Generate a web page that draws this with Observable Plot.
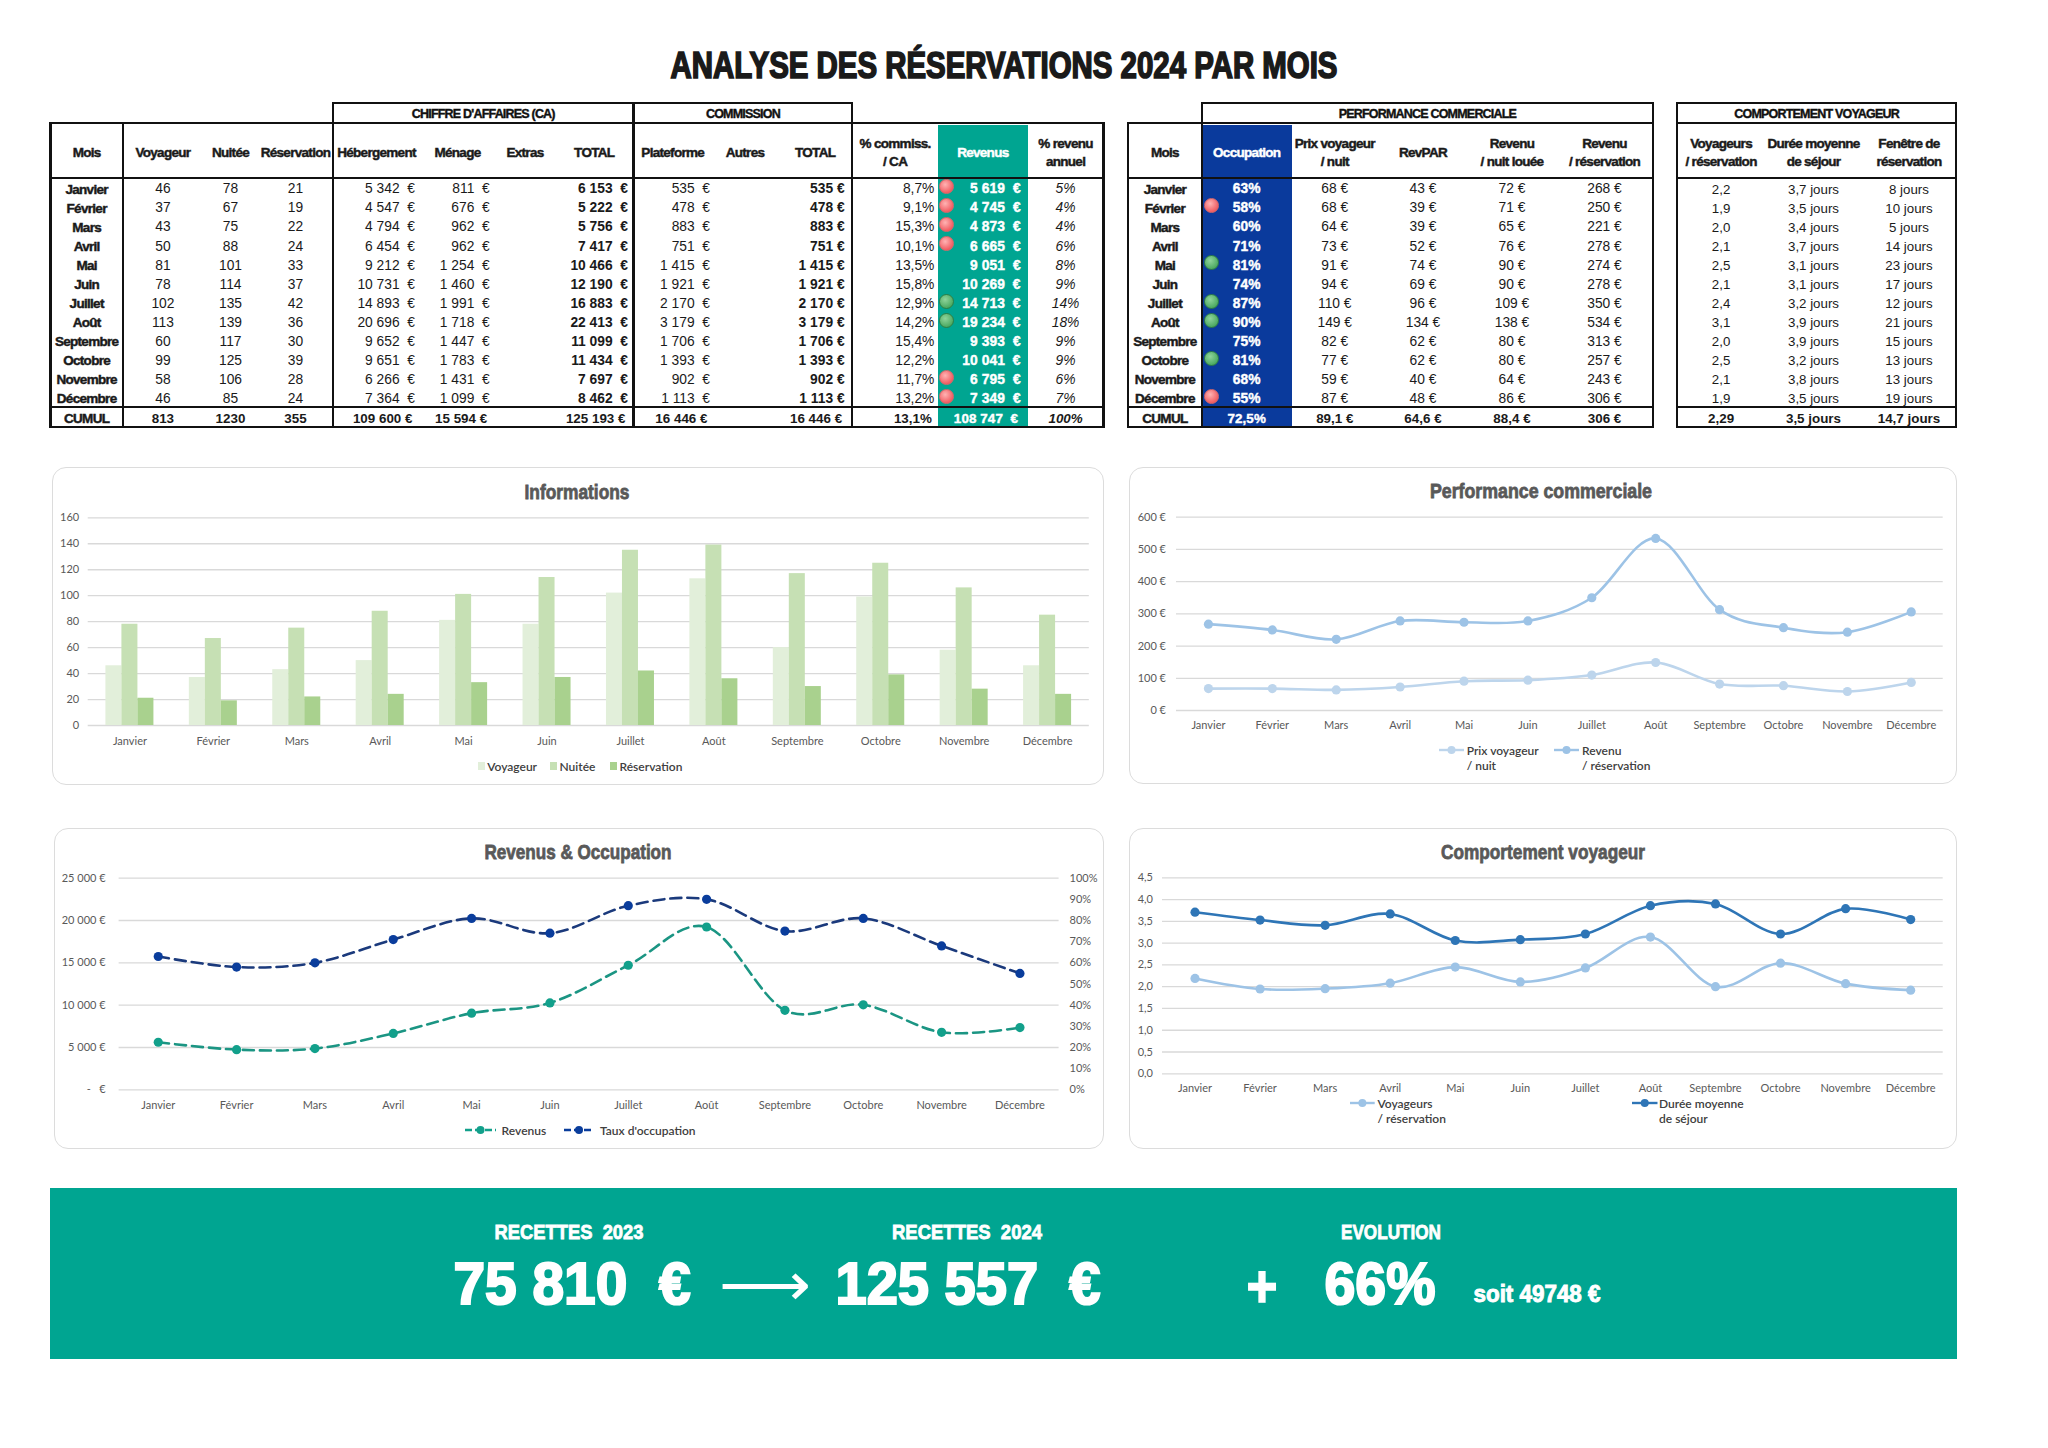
<!DOCTYPE html>
<html lang="fr"><head><meta charset="utf-8">
<script src="https://cdn.jsdelivr.net/npm/d3@7"></script>
<script src="https://cdn.jsdelivr.net/npm/@observablehq/plot@0.6"></script>
<style>
html,body{margin:0;padding:0;background:#fff}
#page{position:relative;width:2048px;height:1448px;overflow:hidden;font-family:"Liberation Sans",Arial,sans-serif;color:#111}
.abs{position:absolute}
.fit{position:absolute;white-space:pre;line-height:1;font-weight:700}
.card{position:absolute;box-sizing:border-box;border:1.5px solid #dcdcdc;border-radius:14px;background:#fff}
.plot{position:absolute}
.plot svg{display:block;background:transparent}
table.t{position:absolute;border-collapse:separate;border-spacing:0;table-layout:fixed;font-size:13.8px;color:#1a1a1a}
table.t.small{font-size:13.3px}
table.t td{padding:0;overflow:visible;white-space:pre;position:relative;vertical-align:middle;line-height:1}
td.r{text-align:right;padding-right:var(--p)!important}
td.c{text-align:center}
td.h,td.m,tr.cumul td{font-weight:700}
tr.cumul td{font-size:13.4px;padding-top:2px!important}
td.h,td.m,tr.cumul td.m{font-size:13.5px;letter-spacing:-.7px;-webkit-text-stroke:.45px currentColor}
td.h{line-height:1.32!important}
tr.cumul td.r{padding-right:calc(var(--p) + 2.5px)!important}
td.w{color:#fff;font-weight:700;letter-spacing:.1px;-webkit-text-stroke:.4px #fff}
.line{position:absolute;background:#111}
.dot{position:absolute;width:15px;height:15px;box-sizing:border-box;border-radius:50%}
.dot.red{background:radial-gradient(circle at 40% 35%,#ffb3b3,#f0595f 75%);border:1px solid #d9686a}
.dot.green{background:radial-gradient(circle at 40% 35%,#8fd49b,#4aa860 75%);border:1px solid #2f7f45}
.group{position:absolute;box-sizing:border-box;display:flex;align-items:center;justify-content:center;padding-top:1.5px;font-weight:700;font-size:12.5px;letter-spacing:-.8px;-webkit-text-stroke:.4px #111;white-space:pre}
.lg{position:absolute;font:600 12px Lato,sans-serif;color:#404040;line-height:15px;white-space:pre}
.sw{position:absolute}
</style></head><body><div id="page"></div>
<script>
// ---------- Données ----------
const mois=["Janvier","Février","Mars","Avril","Mai","Juin","Juillet","Août","Septembre","Octobre","Novembre","Décembre"];
const voyageurs=[46,37,43,50,81,78,102,113,60,99,58,46];
const nuitees=[78,67,75,88,101,114,135,139,117,125,106,85];
const reservations=[21,19,22,24,33,37,42,36,30,39,28,24];
const hebergement=[5342,4547,4794,6454,9212,10731,14893,20696,9652,9651,6266,7364];
const menage=[811,676,962,962,1254,1460,1991,1718,1447,1783,1431,1099];
const totalCA=[6153,5222,5756,7417,10466,12190,16883,22413,11099,11434,7697,8462];
const plateforme=[535,478,883,751,1415,1921,2170,3179,1706,1393,902,1113];
const pctCommission=[8.7,9.1,15.3,10.1,13.5,15.8,12.9,14.2,15.4,12.2,11.7,13.2];
const revenus=[5619,4745,4873,6665,9051,10269,14713,19234,9393,10041,6795,7349];
const pctRevenu=[5,4,4,6,8,9,14,18,9,9,6,7];
const alerteRevenus=["r","r","r","r","","","g","g","","","r","r"];
const occupation=[63,58,60,71,81,74,87,90,75,81,68,55];
const alerteOccupation=["","r","","","g","","g","g","","g","","r"];
const prixVoyageurNuit=[68,68,64,73,91,94,110,149,82,77,59,87];
const revPAR=[43,39,39,52,74,69,96,134,62,62,40,48];
const revenuNuitLouee=[72,71,65,76,90,90,109,138,80,80,64,86];
const revenuReservation=[268,250,221,278,274,278,350,534,313,257,243,306];
const voyageursParReservation=[2.19,1.947,1.955,2.08,2.45,2.11,2.43,3.14,2.0,2.54,2.07,1.92];
const dureeMoyenne=[3.71,3.53,3.41,3.67,3.06,3.08,3.21,3.86,3.9,3.21,3.79,3.54];
const fenetre=[8,10,5,14,23,17,12,21,15,13,13,19];
const ticksInfos=[0,20,40,60,80,100,120,140,160];
const ticksPerf=[0,100,200,300,400,500,600];
const ticksRevenus=[0,5000,10000,15000,20000,25000];
const ticksOccupation=[0,10,20,30,40,50,60,70,80,90,100];
const ticksComportement=[0,.5,1,1.5,2,2.5,3,3.5,4,4.5];

// ---------- Outils ----------
const page=document.getElementById("page");
const NB="\u00a0";
const n=v=>String(v).replace(/\B(?=(\d{3})+$)/g,NB);
const eur=v=>n(v)+NB+NB+"€";
const eur1=v=>n(v)+NB+"€";
const pct1=v=>v.toFixed(1).replace(".",",")+"%";
const dec1=v=>v.toFixed(1).replace(".",",");
function fit(text,cx,cy,w,size,color,stroke,family){
  const e=document.createElement("div");e.className="fit";e.textContent=text;
  e.style.cssText=`left:${cx}px;top:${cy}px;font-size:${size}px;color:${color};font-family:${family||'"Liberation Sans"'};`+(stroke?`-webkit-text-stroke:${stroke}px ${color};`:"");
  page.appendChild(e);
  const k=w/e.getBoundingClientRect().width;
  e.style.transform=`translate(-50%,-50%) scaleX(${k})`;
  return e;
}
function line(x,y,w,h){const d=document.createElement("div");d.className="line";
  d.style.cssText=`left:${x}px;top:${y}px;width:${w}px;height:${h}px`;page.appendChild(d)}
const LW=2.4;
function hl(x0,x1,y){line(x0-LW/2,y-LW/2,x1-x0+LW,LW)}
function vl(x,y0,y1){line(x-LW/2,y0,LW,y1-y0)}
function group(txt,x0,x1,y0,y1){
  const g=document.createElement("div");g.className="group";g.textContent=txt;
  g.style.cssText=`left:${x0}px;top:${y0}px;width:${x1-x0}px;height:${y1-y0}px`;page.appendChild(g);
  hl(x0,x1,y0);vl(x0,y0,y1);vl(x1,y0,y1);
}
const Y={g:103.3,h:123.3,hb:177.7,b0:179.8,rh:19.04,ct:407.3,cb:427.3};
function table(edges,cols,vlines,cls){
  const t=document.createElement("table");t.className="t "+(cls||"");
  const W=edges[edges.length-1]-edges[0];
  t.style.cssText=`left:${edges[0]}px;top:${Y.h}px;width:${W}px`;
  const cg=document.createElement("colgroup");
  for(let i=0;i<cols.length;i++){const c=document.createElement("col");c.style.width=(edges[i+1]-edges[i])+"px";cg.appendChild(c)}
  t.appendChild(cg);
  const addRow=(h,fn,cls)=>{const tr=document.createElement("tr");tr.style.height=h+"px";if(cls)tr.className=cls;
    cols.forEach((c,i)=>{const td=document.createElement("td");fn(td,c,i);if(c.fill)td.style.background=c.fill;tr.appendChild(td)});t.appendChild(tr)};
  addRow(Y.b0-Y.h,(td,c)=>{td.className="h c";td.innerHTML=c.head;if(c.white)td.style.color="#fff";td.style.top="1.5px"});
  mois.forEach((m,r)=>addRow(Y.rh,(td,c)=>{
    const v=c.cell(r);
    td.className=(c.month?"m c":c.pad!=null?"r":"c")+(c.white?" w":"");
    if(c.pad!=null)td.style.setProperty("--p",c.pad+"px");
    if(c.bold)td.style.fontWeight=700;
    if(c.italic)td.style.fontStyle="italic";
    td.textContent=v;
    if(c.alert&&c.alert[r]){const s=document.createElement("span");s.className="dot "+(c.alert[r]=="r"?"red":"green");
      s.style.left=(c.dotX-7.5)+"px";s.style.top=(Y.rh/2-10)+"px";td.appendChild(s)}
  }));
  addRow(Y.cb-(Y.b0+12*Y.rh),(td,c)=>{
    td.className=(c.month?"m c":c.pad!=null?"r":"c")+(c.white?" w":"");
    if(c.pad!=null)td.style.setProperty("--p",c.pad+"px");
    if(c.italic)td.style.fontStyle="italic";
    td.textContent=c.total;
  },"cumul");
  page.appendChild(t);
  hl(edges[0],edges[edges.length-1],Y.h);hl(edges[0],edges[edges.length-1],Y.hb);
  hl(edges[0],edges[edges.length-1],Y.ct);hl(edges[0],edges[edges.length-1],Y.cb);
  vlines.forEach(x=>vl(x,Y.h,Y.cb+LW/2));
}

// ---------- Titre ----------
fit("ANALYSE DES RÉSERVATIONS 2024 PAR MOIS",1003.5,65.5,667,36,"#1a1a1a",1.7);

// ---------- Tableau principal ----------
const TEAL="#00a591", BLUE="#0a3a9c";
const T1=[50.5,122.8,203,258,333,420,495,555,633.5,712,778,852.3,938,1027.7,1103.5];
table(T1,[
 {head:"Mois",month:1,cell:r=>mois[r],total:"CUMUL"},
 {head:"Voyageur",cell:r=>voyageurs[r],total:"813"},
 {head:"Nuitée",cell:r=>nuitees[r],total:"1230"},
 {head:"Réservation",cell:r=>reservations[r],total:"355"},
 {head:"Hébergement",pad:5,cell:r=>eur(hebergement[r]),total:eur1(109600)},
 {head:"Ménage",pad:5.3,cell:r=>eur(menage[r]),total:eur1(15594)},
 {head:"Extras",cell:()=>"",total:""},
 {head:"TOTAL",pad:5.5,bold:1,cell:r=>eur(totalCA[r]),total:eur1(125193)},
 {head:"Plateforme",pad:2,cell:r=>eur(plateforme[r]),total:eur1(16446)},
 {head:"Autres",cell:()=>"",total:""},
 {head:"TOTAL",pad:7.7,bold:1,cell:r=>eur1(plateforme[r]),total:eur1(16446)},
 {head:"% commiss.<br>/ CA",pad:3.6,cell:r=>pct1(pctCommission[r]),total:pct1(13.1)},
 {head:"Revenus",pad:7,fill:TEAL,white:1,alert:alerteRevenus,dotX:8.3,cell:r=>eur(revenus[r]),total:eur(108747)},
 {head:"% revenu<br>annuel",italic:1,cell:r=>pctRevenu[r]+"%",total:"100%"}
],[T1[0],T1[1],T1[4],T1[8],T1[11],T1[14]]);
group("CHIFFRE D'AFFAIRES (CA)",333,633.5,Y.g,Y.h);
group("COMMISSION",633.5,852.3,Y.g,Y.h);

// ---------- Performance commerciale ----------
const T2=[1128,1201.8,1291.6,1378,1468,1556,1653];
table(T2,[
 {head:"Mois",month:1,cell:r=>mois[r],total:"CUMUL"},
 {head:"Occupation",fill:BLUE,white:1,alert:alerteOccupation,dotX:9.6,cell:r=>occupation[r]+"%",total:"72,5%"},
 {head:"Prix voyageur<br>/ nuit",cell:r=>prixVoyageurNuit[r]+NB+"€",total:"89,1"+NB+"€"},
 {head:"RevPAR",cell:r=>revPAR[r]+NB+"€",total:"64,6"+NB+"€"},
 {head:"Revenu<br>/ nuit louée",cell:r=>revenuNuitLouee[r]+NB+"€",total:"88,4"+NB+"€"},
 {head:"Revenu<br>/ réservation",cell:r=>revenuReservation[r]+NB+"€",total:"306"+NB+"€"}
],[T2[0],T2[1],T2[6]]);
group("PERFORMANCE COMMERCIALE",1201.8,1653,Y.g,Y.h);

// ---------- Comportement voyageur ----------
const T3=[1677.2,1765,1862,1956];
table(T3,[
 {head:"Voyageurs<br>/ réservation",cell:r=>dec1(voyageursParReservation[r]),total:"2,29"},
 {head:"Durée moyenne<br>de séjour",cell:r=>dec1(dureeMoyenne[r])+" jours",total:"3,5 jours"},
 {head:"Fenêtre de<br>réservation",cell:r=>fenetre[r]+" jours",total:"14,7 jours"}
],[T3[0],T3[3]],"small");
group("COMPORTEMENT VOYAGEUR",1677.2,1956,Y.g,Y.h);

// ---------- Graphiques ----------
const AXIS={fontFamily:"Lato, sans-serif",fontSize:11,fill:"#595959"};
const GRID={stroke:"#d9d9d9",strokeWidth:1.3};
const table1=mois.map((m,i)=>({m,i}));
function card(x0,y0,x1,y1,title,tx,ty,tw){
  const c=document.createElement("div");c.className="card";
  c.style.cssText=`left:${x0}px;top:${y0}px;width:${x1-x0}px;height:${y1-y0}px`;page.appendChild(c);
  return ()=>fit(title,tx,ty,tw,21,"#595959",.8);
}
function mount(svg,x,y){const d=document.createElement("div");d.className="plot";d.style.cssText=`left:${x}px;top:${y}px`;d.appendChild(svg);page.appendChild(d)}
function legendLine(text,x0,x1,tx,y,color,dash){
  const s=document.createElementNS("http://www.w3.org/2000/svg","svg");s.setAttribute("class","sw");
  s.setAttribute("width",x1-x0+8);s.setAttribute("height",12);s.style.left=(x0-4)+"px";s.style.top=(y-6)+"px";
  const w=x1-x0;
  s.innerHTML=`<line x1="4" x2="${4+w}" y1="6" y2="6" stroke="${color}" stroke-width="2.4" ${dash?`stroke-dasharray="${dash}"`:""}/><circle cx="${4+w/2}" cy="6" r="4" fill="${color}"/>`;
  page.appendChild(s);
  const l=document.createElement("div");l.className="lg";l.textContent=text;l.style.left=tx+"px";l.style.top=(y-7.5)+"px";page.appendChild(l);
}

// Informations
{
 const t=card(52,467,1103.5,785,"Informations",576.6,490.7,105);
 const W=1050,H=318,bar=16,inset=(1001/12-bar)/2;
 const bars=(vals,fill,dx)=>Plot.barY(table1,{x:"m",y:d=>vals[d.i],fill,dx,insetLeft:inset,insetRight:inset});
 mount(Plot.plot({width:W,height:H,marginLeft:35.7,marginRight:13.2,marginTop:50.3,marginBottom:60,
  style:{background:"transparent"},
  x:{type:"band",domain:mois,padding:0,round:false,label:null},
  y:{domain:[0,160],label:null},
  marks:[Plot.ruleY(ticksInfos,GRID),
   bars(voyageurs,"#e2efda",-bar),bars(nuitees,"#c6e0b4",0),bars(reservations,"#a9d18e",bar),
   Plot.axisX({anchor:"bottom",tickSize:0,tickPadding:11.5,label:null,...AXIS}),
   Plot.axisY(ticksInfos,{anchor:"left",tickSize:0,tickPadding:9,label:null,...AXIS})]
 }),52,467);
 t();
 [["Voyageur",477.7,"#e2efda"],["Nuitée",550,"#c6e0b4"],["Réservation",610,"#a9d18e"]].forEach(([s,x,c])=>{
  const d=document.createElement("div");d.className="abs";d.style.cssText=`left:${x}px;top:762px;width:7px;height:8px;background:${c}`;page.appendChild(d);
  const l=document.createElement("div");l.className="lg";l.textContent=s;l.style.left=(x+9.5)+"px";l.style.top="759px";page.appendChild(l);
 });
}
function lineMarks(vals,color,opts={}){
 return [Plot.lineY(table1,{x:"m",y:d=>vals[d.i],stroke:opts.line||color,strokeWidth:2.6,curve:"cardinal",strokeDasharray:opts.dash}),
         Plot.dot(table1,{x:"m",y:d=>vals[d.i],fill:color,r:4.6})];
}
// Performance commerciale
{
 const t=card(1129,467,1957,784,"Performance commerciale",1541.4,490,222);
 mount(Plot.plot({width:826,height:317,marginLeft:46,marginRight:13.3,marginTop:49.7,marginBottom:74,
  style:{background:"transparent"},
  x:{type:"point",domain:mois,padding:.5,round:false,label:null},
  y:{domain:[0,600],label:null},
  marks:[Plot.ruleY(ticksPerf,GRID),
   ...lineMarks(prixVoyageurNuit,"#bdd5ec"),...lineMarks(revenuReservation,"#9dc3e6"),
   Plot.axisX({anchor:"bottom",tickSize:0,tickPadding:11,label:null,...AXIS}),
   Plot.axisY(ticksPerf,{anchor:"left",tickSize:0,tickPadding:10.5,label:null,tickFormat:d=>d+" €",...AXIS})]
 }),1130,467);
 t();
 legendLine("Prix voyageur\n/ nuit",1439,1464,1466.7,750.3,"#bdd5ec");
 legendLine("Revenu\n/ réservation",1554,1579,1582,750.3,"#9dc3e6");
}
// Revenus & Occupation (axe secondaire : 100 % = 25 000 €)
{
 const t=card(54,828,1103.5,1148.5,"Revenus & Occupation",578,851,187);
 const parPoint=25000/100;
 mount(Plot.plot({width:1049,height:320.5,marginLeft:64.6,marginRight:44.4,marginTop:49.7,marginBottom:59.2,
  style:{background:"transparent"},
  x:{type:"point",domain:mois,padding:.5,round:false,label:null},
  y:{domain:[0,25000],label:null},
  marks:[Plot.ruleY(ticksRevenus,GRID),
   ...lineMarks(revenus,"#12a08b",{dash:"11,6",line:"#1b9583"}),
   ...lineMarks(occupation.map(v=>v*parPoint),"#0a3d9c",{dash:"11,6",line:"#1b3a7c"}),
   Plot.axisX({anchor:"bottom",tickSize:0,tickPadding:11,label:null,...AXIS}),
   Plot.axisY(ticksRevenus,{anchor:"left",tickSize:0,tickPadding:13.5,label:null,tickFormat:d=>d===0?"-   €":n(d)+" €",...AXIS}),
   Plot.axisY(ticksOccupation.map(v=>v*parPoint),{anchor:"right",tickSize:0,tickPadding:10.5,label:null,tickFormat:d=>d/parPoint+"%",...AXIS})]
 }),54,828);
 t();
 legendLine("Revenus",465,496,501.6,1130,"#12a08b","7,3");
 legendLine("Taux d'occupation",564,594,600,1130,"#0a3d9c","7,3");
}
// Comportement voyageur
{
 const t=card(1129,828,1957,1148.5,"Comportement voyageur",1542.5,850.7,204);
 mount(Plot.plot({width:826,height:320.5,marginLeft:32,marginRight:13.3,marginTop:49.3,marginBottom:75.2,
  style:{background:"transparent"},
  x:{type:"point",domain:mois,padding:.5,round:false,label:null},
  y:{domain:[0,4.5],label:null},
  marks:[Plot.ruleY(ticksComportement,GRID),
   ...lineMarks(voyageursParReservation,"#9dc3e6"),...lineMarks(dureeMoyenne,"#2e75b6"),
   Plot.axisX({anchor:"bottom",tickSize:0,tickPadding:10.5,label:null,...AXIS}),
   Plot.axisY(ticksComportement,{anchor:"left",tickSize:0,tickPadding:9.5,label:null,tickFormat:d=>d.toFixed(1).replace(".",","),...AXIS})]
 }),1130,828);
 t();
 legendLine("Voyageurs\n/ réservation",1350,1374.7,1377.5,1103.3,"#9dc3e6");
 legendLine("Durée moyenne\nde séjour",1632,1657.5,1659,1103.3,"#2e75b6");
}

// ---------- Bandeau ----------
const b=document.createElement("div");b.className="abs";b.style.cssText=`left:50px;top:1187.5px;width:1907px;height:171px;background:${TEAL}`;page.appendChild(b);
[["RECETTES  2023",569,1231,149,21,.8],["RECETTES  2024",967,1231,150,21,.8],["EVOLUTION",1391,1231,100,21,.8],
 ["75 810  €",571.5,1283.5,237,60,2.2],["125 557  €",968,1283.5,265,60,2.2],["+",1261.5,1287,31,60,1.5],["66%",1379.5,1283.5,111,60,2.2],["soit 49748 €",1536.5,1294,127,23,.9]]
 .forEach(([s,x,y,w,f,st])=>fit(s,x,y,w,f,"#fff",st));
fit("⟶",764.5,1284,92,60,"#fff",0,'"DejaVu Sans"').style.fontWeight=400;
</script></body></html>
